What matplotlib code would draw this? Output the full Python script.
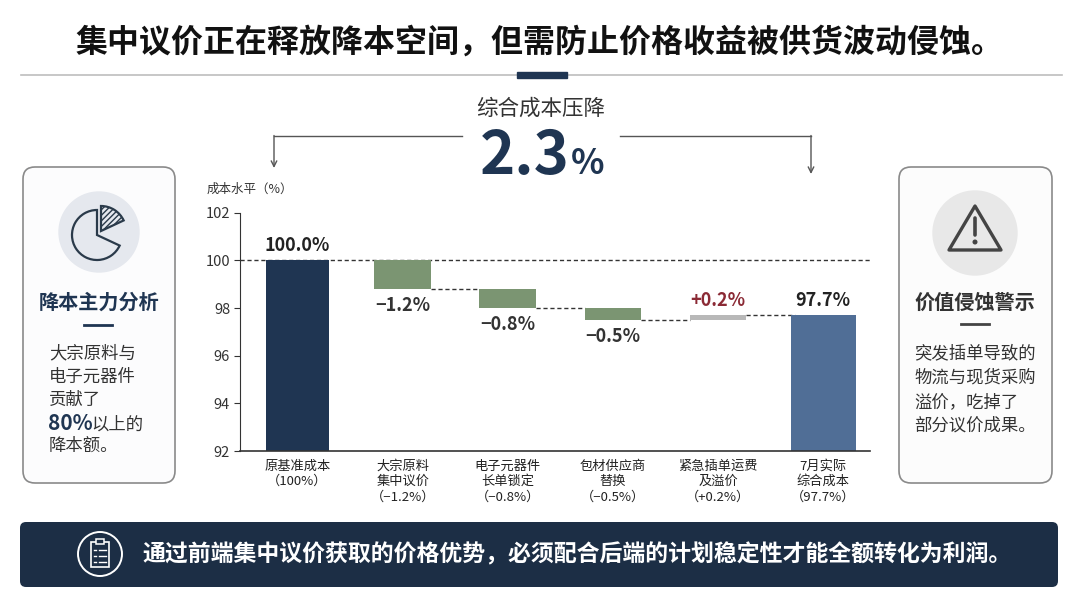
import numpy as np
import matplotlib.pyplot as plt
from matplotlib.patches import FancyBboxPatch, Circle, Wedge, Polygon, Rectangle

plt.rcParams['font.family'] = ['Noto Sans CJK SC', 'DejaVu Sans']

# data
categories = ['原基准成本\n（100%）', '大宗原料\n集中议价\n（−1.2%）', '电子元器件\n长单锁定\n（−0.8%）',
              '包材供应商\n替换\n（−0.5%）', '紧急插单运费\n及溢价\n（+0.2%）', '7月实际\n综合成本\n（97.7%）']
base_value = 100.0
changes = [-1.2, -0.8, -0.5, 0.2]
final_value = 97.7
value_labels = ['100.0%', '−1.2%', '−0.8%', '−0.5%', '+0.2%', '97.7%']
y_ticks = [92, 94, 96, 98, 100, 102]

navy = '#1f3552'
steel = '#506e96'
green = '#7b9572'
grey = '#b8b8b8'
red = '#8b2a35'
txt = '#333333'

fig = plt.figure(figsize=(10.8, 6.08), dpi=100)
fig.patch.set_facecolor('white')

# background layer in pixel coords
bg = fig.add_axes([0, 0, 1, 1], zorder=0)
bg.set_xlim(0, 1080)
bg.set_ylim(608, 0)
bg.axis('off')

# title
bg.text(540, 43, '集中议价正在释放降本空间，但需防止价格收益被供货波动侵蚀。', ha='center', va='center',
        fontsize=23, fontweight='bold', color='#111111')
bg.plot([21, 1062], [75, 75], color='#bdbdbd', lw=1.2)
bg.add_patch(Rectangle((517, 72), 50, 6, color=navy, zorder=3))

# headline number
bg.text(541, 109, '综合成本压降', ha='center', va='center', fontsize=15.5, color=txt)
bg.text(570, 157, '2.3', ha='right', va='center', fontsize=43, fontweight='bold', color=navy)
bg.text(571, 163, '%', ha='left', va='center', fontsize=25, fontweight='bold', color=navy)
bg.plot([462, 274], [136, 136], color='#555555', lw=1)
bg.annotate('', xy=(274, 168), xytext=(274, 135.5),
            arrowprops=dict(arrowstyle='->', color='#555555', lw=1, shrinkA=0, shrinkB=0))
bg.plot([620, 811], [136, 136], color='#555555', lw=1)
bg.annotate('', xy=(811, 174), xytext=(811, 135.5),
            arrowprops=dict(arrowstyle='->', color='#555555', lw=1, shrinkA=0, shrinkB=0))

# left card
bg.add_patch(FancyBboxPatch((23, 167), 152, 316, boxstyle='round,pad=0,rounding_size=12',
                            facecolor='#fcfcfd', edgecolor='#8a8a8a', lw=1.2))
bg.add_patch(Circle((99, 232), 40, color='#e5e8ee'))
bg.add_patch(Wedge((97, 235), 25, 25, 270, facecolor='none', edgecolor='#2a3a4a', lw=1.6))
bg.add_patch(Wedge((101, 231), 25, 270, 335, facecolor='none', edgecolor='#2a3a4a', lw=1.6,
                   hatch='//////'))
bg.text(99, 302, '降本主力分析', ha='center', va='center', fontsize=14.5, fontweight='bold', color=navy)
bg.plot([84, 112], [325, 325], color=navy, lw=2)
for s, yy in zip(['大宗原料与', '电子元器件', '贡献了'], [353, 377, 400]):
    bg.text(49, yy, s, ha='left', va='center', fontsize=12.5, color=txt)
bg.text(48, 423, '80%', ha='left', va='center', fontsize=15, fontweight='bold', color=navy)
bg.text(91, 425, '以上的', ha='left', va='center', fontsize=12.5, color=txt)
bg.text(49, 446, '降本额。', ha='left', va='center', fontsize=12.5, color=txt)

# right card
bg.add_patch(FancyBboxPatch((899, 167), 153, 316, boxstyle='round,pad=0,rounding_size=12',
                            facecolor='#fcfcfc', edgecolor='#8a8a8a', lw=1.2))
bg.add_patch(Circle((975, 233), 42, color='#e8e8e8'))
bg.add_patch(Polygon([(975, 206), (949, 250), (1001, 250)], closed=True, facecolor='none',
                     edgecolor='#444444', lw=2.4, joinstyle='round'))
bg.plot([975, 975], [218, 235], color='#444444', lw=2.6, solid_capstyle='round')
bg.add_patch(Circle((975, 242), 1.8, color='#444444'))
bg.text(975, 302, '价值侵蚀警示', ha='center', va='center', fontsize=14.5, fontweight='bold', color=txt)
bg.plot([961, 989], [324, 324], color='#444444', lw=2)
for s, yy in zip(['突发插单导致的', '物流与现货采购', '溢价，吃掉了', '部分议价成果。'], [353, 378, 402, 426]):
    bg.text(914, yy, s, ha='left', va='center', fontsize=12.5, color=txt)

# bottom banner
bg.add_patch(FancyBboxPatch((20, 522), 1038, 65, boxstyle='round,pad=0,rounding_size=6',
                            facecolor='#1c2e45', edgecolor='none'))
bg.add_patch(Circle((100, 554), 22, facecolor='none', edgecolor='white', lw=1.4))
bg.add_patch(Rectangle((91, 542), 18, 25, facecolor='none', edgecolor='white', lw=1.2))
bg.add_patch(Rectangle((96, 539), 8, 5, facecolor='#1c2e45', edgecolor='white', lw=1.1))
for yy in [550, 556, 562]:
    bg.plot([99, 106], [yy, yy], color='white', lw=1)
    bg.plot([94, 96], [yy, yy], color='white', lw=1)
bg.text(142, 555, '通过前端集中议价获取的价格优势，必须配合后端的计划稳定性才能全额转化为利润。',
        ha='left', va='center', fontsize=16.5, fontweight='bold', color='white')

# waterfall chart
ax = fig.add_axes([0.222, 0.258, 0.584, 0.392], zorder=1)
ax.set_facecolor('none')
ymin = y_ticks[0]
x = np.arange(len(categories))

starts = base_value + np.concatenate([[0], np.cumsum(changes)[:-1]])
ends = base_value + np.cumsum(changes)

ax.bar(x[0], base_value - ymin, bottom=ymin, width=0.6, color=navy, zorder=2)
for i, (s, d) in enumerate(zip(starts, changes)):
    ax.bar(x[i + 1], abs(d), bottom=min(s, s + d), width=0.54, color=green if d < 0 else grey, zorder=2)
ax.bar(x[-1], final_value - ymin, bottom=ymin, width=0.62, color=steel, zorder=2)

ax.axhline(base_value, color='#333333', lw=1, ls=(0, (3, 2)), zorder=1)
for i, lvl in enumerate(ends):
    ax.plot([x[i + 1] + 0.27, x[i + 2] - 0.27], [lvl, lvl], color='#333333', lw=1,
            ls=(0, (3, 2)), zorder=1)

# value labels
ax.annotate(value_labels[0], (x[0], base_value), xytext=(0, 11), textcoords='offset points',
            ha='center', va='center', fontsize=13, fontweight='bold', color='#222222')
for i, (s, d) in enumerate(zip(starts, changes)):
    if d < 0:
        ax.annotate(value_labels[i + 1], (x[i + 1], s + d), xytext=(0, -12), textcoords='offset points',
                    ha='center', va='center', fontsize=13, fontweight='bold', color=txt)
    else:
        ax.annotate(value_labels[i + 1], (x[i + 1], s + d), xytext=(0, 11), textcoords='offset points',
                    ha='center', va='center', fontsize=13, fontweight='bold', color=red)
ax.annotate(value_labels[-1], (x[-1], final_value), xytext=(0, 11), textcoords='offset points',
            ha='center', va='center', fontsize=13, fontweight='bold', color='#222222')

ax.set_xlim(-0.55, 5.45)
ax.set_ylim(ymin, y_ticks[-1])
ax.set_yticks(y_ticks)
ax.set_xticks(x)
ax.set_xticklabels(categories, fontsize=9.5, color='#222222', linespacing=1.25, va='top')
ax.tick_params(axis='x', length=0, pad=6)
ax.tick_params(axis='y', labelsize=10.5, colors=txt, length=4, pad=3)
for sp in ['top', 'right']:
    ax.spines[sp].set_visible(False)
ax.spines['left'].set_color('#333333')
ax.spines['bottom'].set_color('#333333')
ax.spines['bottom'].set_linewidth(1.2)

bg.text(207, 189, '成本水平（%）', ha='left', va='center', fontsize=9, color=txt)

fig.savefig('out.png', dpi=100, facecolor='white')
